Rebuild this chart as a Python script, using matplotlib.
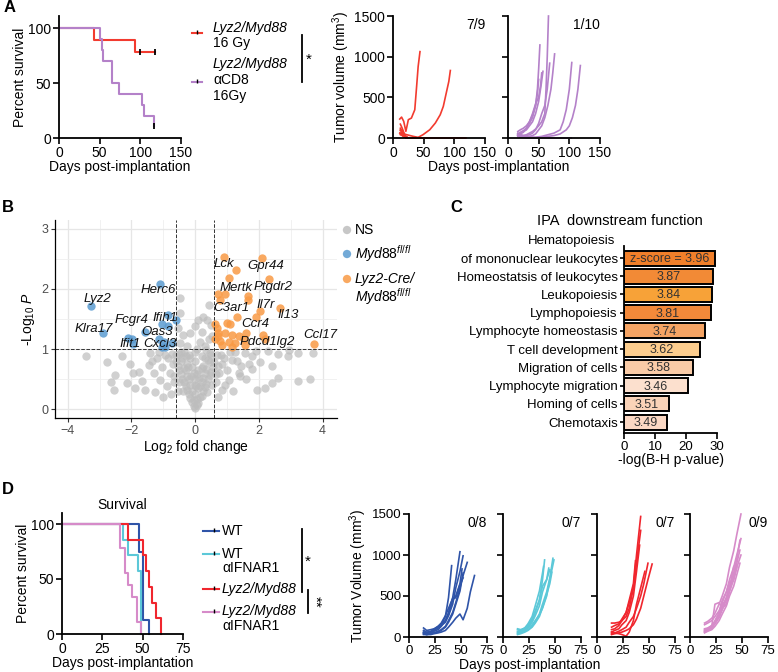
import numpy as np
import matplotlib.pyplot as plt
from matplotlib.ticker import MultipleLocator

plt.rcParams['font.family'] = ['Liberation Sans', 'DejaVu Sans']
plt.rcParams['mathtext.fontset'] = 'custom'
plt.rcParams['mathtext.rm'] = 'Liberation Sans'
plt.rcParams['mathtext.it'] = 'Liberation Sans:italic'
plt.rcParams['axes.linewidth'] = 1.3

# ---------------- data ----------------
# A: survival (days, percent)
A_red_days = [0, 43, 93, 118]
A_red_pct = [100, 88.9, 77.8, 77.8]
A_red_cens = [100, 118]
A_pur_days = [0, 50, 52.5, 54.5, 65, 74, 101.5, 104, 117]
A_pur_pct = [100, 90, 80, 70, 50, 40, 30, 20, 11]
A_pur_cens = [117]

# A: tumour growth curves
A_red_curves = [
    ([11, 14, 17.5, 21, 25, 30, 35.5, 38.5, 41, 44], [233, 257, 204, 82, 225, 245, 347, 633, 878, 1062]),
    ([11, 22, 33, 41, 49, 60, 69, 77, 82, 88, 91, 93.5], [61, 41, 20, 8, 41, 102, 184, 286, 388, 593, 695, 830]),
    ([12, 15, 18, 21, 25, 30, 118], [170, 120, 60, 20, 0, 0, 0]),
    ([12, 15, 18, 21, 25, 118], [120, 80, 40, 10, 0, 0]),
    ([12, 15, 18, 21, 25, 118], [90, 100, 50, 20, 0, 0]),
    ([12, 14, 17, 20, 24, 118], [60, 40, 20, 10, 0, 0]),
    ([12, 15, 18, 22, 26, 118], [40, 70, 30, 0, 0, 0]),
    ([12, 15, 18, 21, 118], [100, 60, 30, 0, 0]),
    ([12, 15, 19, 23, 118], [50, 30, 10, 0, 0]),
]
A_pur_curves = [
    ([16, 20, 25, 30, 35, 40, 45, 50, 55, 60, 62, 64, 66], [60, 40, 30, 40, 60, 80, 110, 150, 200, 300, 600, 1000, 1500]),
    ([16, 20, 25, 30, 35, 40, 45, 48, 50, 52], [80, 100, 120, 150, 200, 280, 400, 600, 850, 1144]),
    ([16, 20, 25, 30, 35, 40, 45, 50, 54, 57], [40, 60, 80, 100, 150, 200, 300, 450, 650, 820]),
    ([16, 20, 25, 30, 35, 40, 45, 50, 53, 55], [30, 50, 70, 120, 200, 300, 420, 500, 640, 800]),
    ([16, 20, 25, 30, 35, 40, 45, 50, 55, 60, 64, 68], [50, 40, 30, 30, 40, 60, 100, 180, 300, 400, 600, 920]),
    ([16, 20, 25, 30, 35, 40, 45, 50, 55, 60, 65, 70, 73, 76], [30, 20, 10, 10, 20, 30, 50, 100, 150, 250, 400, 600, 800, 1034]),
    ([16, 25, 35, 45, 55, 65, 75, 85, 90, 95, 100, 104], [40, 20, 10, 10, 20, 40, 60, 100, 200, 350, 600, 928]),
    ([16, 25, 35, 45, 55, 65, 75, 85, 95, 100, 105, 110, 114, 118], [20, 10, 10, 5, 10, 20, 30, 50, 100, 150, 250, 400, 600, 891]),
    ([16, 20, 25, 30, 35, 40, 45, 48, 50], [50, 70, 90, 120, 180, 250, 400, 550, 720]),
    ([16, 20, 25, 30, 40, 60, 80, 103], [30, 10, 5, 0, 0, 0, 0, 0]),
]
A_counts = ['7/9', '1/10']

# B: volcano
ns_x = [-3.43, -2.77, -2.51, -2.56, -2.65, -2.14, -1.88, -2.30, -1.95, -1.67, -1.41, -1.46, -1.57, -1.30,
        -1.10, -1.26, -0.89, -1.75, -2.05, -1.20, -1.05, -0.95, -0.80, -0.70, -0.65, -0.55, -0.75, -1.00, -0.60,
        -0.47, -0.47, 0.42, 0.26, 0.10, 0.37, 0.00, -0.16, 0.21, -0.37, -0.47, 0.42, 0.52, -0.25, 0.30, 0.15,
        -0.55, 0.50,
        0.00, -0.05, 0.05, -0.10, 0.10, -0.15, 0.15, -0.20, 0.20, -0.25, 0.25, -0.30, 0.30, -0.35, 0.35, -0.40,
        0.40, -0.45, 0.45, -0.50, 0.50, -0.55, 0.55, -0.60, 0.60, -0.10, 0.10, 0.00, -0.20, 0.20, 0.00, -0.30,
        0.30, -0.10, 0.10, 0.00, -0.40, 0.40, -0.20, 0.20, 0.00, -0.35, 0.35, -0.50, 0.50, 0.05, -0.15,
        -0.05, 0.05, -0.15, 0.15, -0.25, 0.25, -0.35, 0.35, -0.45, 0.45, -0.05, 0.05, -0.25, 0.25, -0.45, 0.45,
        -0.30, 0.30, -0.12, 0.12, -0.22, 0.22, -0.38, 0.38, -0.02, 0.02, -0.52, 0.52, -0.65, 0.65,
        0.65, 0.75, 0.84, 0.73, 0.90, 1.05, 1.15, 1.36, 1.57, 1.78, 1.78, 2.04, 2.41, 2.20, 1.94, 2.41, 2.59,
        2.91, 3.22, 3.61, 3.24, 3.71, 2.30, 2.93, 1.25, 1.45, 1.00, 0.80, 1.60, 2.60, 1.90, 0.95, 1.20, 0.70,
        0.85, 1.10, 1.30, 0.68, 1.40, 1.70, -0.85, -1.15, -1.35, -0.72]
ns_y = [0.89, 0.78, 0.57, 0.31, 0.45, 0.44, 0.35, 0.88, 0.60, 0.46, 0.93, 0.74, 0.31, 0.60,
        0.49, 0.29, 0.38, 0.62, 0.75, 0.85, 0.70, 0.90, 0.60, 0.75, 0.45, 0.30, 0.25, 0.20, 0.90,
        1.85, 1.60, 1.74, 1.54, 1.49, 1.49, 1.38, 1.27, 1.29, 1.24, 1.10, 1.16, 1.21, 1.05, 1.05, 1.12,
        1.35, 1.40,
        0.02, 0.05, 0.06, 0.12, 0.10, 0.18, 0.20, 0.25, 0.22, 0.32, 0.30, 0.38, 0.36, 0.45, 0.42, 0.50,
        0.50, 0.58, 0.56, 0.65, 0.62, 0.72, 0.70, 0.80, 0.78, 0.30, 0.35, 0.25, 0.50, 0.45, 0.50, 0.65,
        0.60, 0.70, 0.65, 0.80, 0.85, 0.82, 0.90, 0.88, 0.95, 0.95, 0.98, 0.92, 0.90, 1.00, 0.85,
        0.15, 0.16, 0.40, 0.38, 0.55, 0.52, 0.68, 0.66, 0.80, 0.78, 0.60, 0.58, 0.75, 0.72, 0.95, 0.93,
        0.88, 0.85, 0.55, 0.52, 0.70, 0.68, 0.30, 0.28, 0.40, 0.38, 0.45, 0.40, 0.55, 0.58,
        0.45, 0.60, 0.32, 0.71, 0.85, 0.49, 0.82, 0.60, 0.93, 0.88, 0.66, 0.79, 0.71, 0.35, 0.31, 0.43, 0.52,
        0.88, 0.46, 0.50, 0.93, 0.94, 0.97, 0.98, 0.95, 0.72, 0.65, 0.90, 0.50, 0.92, 0.97, 0.40, 0.30, 0.20,
        0.75, 0.95, 0.80, 0.90, 0.55, 0.75, 0.85, 0.95, 0.80, 0.92]
wt_x = [-3.26, -2.89, -1.12, -1.59, -2.11, -1.97, -1.95, -0.84, -0.61, -1.03, -0.84, -1.15, -0.97, -0.94,
        -0.73, -1.05]
wt_y = [1.71, 1.26, 2.09, 1.29, 1.18, 1.17, 1.09, 1.57, 1.49, 1.42, 1.38, 1.17, 1.12, 1.04, 1.10, 1.04]
ko_x = [0.89, 1.28, 2.09, 1.05, 2.33, 0.73, 0.94, 0.78, 1.67, 1.65, 2.04, 2.67, 1.31, 1.91, 0.63, 0.99,
        1.10, 0.73, 0.94, 1.15, 1.36, 1.59, 2.14, 2.20, 0.63, 0.78, 1.05, 1.26, 1.52, 0.84, 1.15, 1.57, 3.74,
        0.68, 0.73]
ko_y = [2.53, 2.32, 2.52, 2.18, 2.16, 1.91, 1.91, 1.82, 1.88, 1.81, 1.64, 1.69, 1.53, 1.53, 1.42, 1.43,
        1.41, 1.27, 1.26, 1.24, 1.21, 1.26, 1.24, 1.17, 1.16, 1.13, 1.11, 1.10, 1.16, 1.06, 1.04, 1.06, 1.09,
        1.35, 1.21]
gene_names = ['Lyz2', 'Klra17', 'Herc6', 'Fcgr4', 'Ifih1', 'Oas3', 'Ifit1', 'Cxcl3', 'Lck', 'Gpr44',
              'Mertk', 'Ptgdr2', 'C3ar1', 'Il7r', 'Il13', 'Ccr4', 'Pdcd1lg2', 'Ccl17']
gene_label_x = [-3.06, -3.19, -1.17, -1.99, -0.96, -1.21, -2.04, -1.12, 0.91, 2.20,
                1.28, 2.46, 1.13, 2.22, 2.93, 1.90, 2.25, 3.92]
gene_label_y = [1.84, 1.33, 1.99, 1.49, 1.52, 1.29, 1.09, 1.09, 2.41, 2.39,
                2.02, 2.03, 1.68, 1.73, 1.57, 1.42, 1.12, 1.24]

# C: IPA downstream function
ipa_terms = ['of mononuclear leukocytes', 'Homeostatsis of leukocytes', 'Leukopoiesis', 'Lymphopoiesis',
             'Lymphocyte homeostasis', 'T cell development', 'Migration of cells', 'Lymphocyte migration',
             'Homing of cells', 'Chemotaxis']
ipa_logp = [29.5, 28.7, 28.5, 28.0, 26.2, 24.4, 22.2, 20.5, 14.5, 13.8]
ipa_z = ['z-score = 3.96', '3.87', '3.84', '3.81', '3.74', '3.62', '3.58', '3.46', '3.51', '3.49']
ipa_colors = ['#F07F2A', '#F28A36', '#F7A238', '#F3893A', '#F5A464', '#FCCD8E', '#F9CBA7', '#FCE0CE',
              '#FAD3B8', '#FBD8C4']

# D: survival
D_groups = ['WT', 'WT aIFNAR1', 'Lyz2/Myd88', 'Lyz2/Myd88 aIFNAR1']
D_days = [[0, 48, 50, 54], [0, 38, 41, 47, 49], [0, 41, 50, 52, 54, 56, 58, 61.5], [0, 36, 39, 41, 43.5, 46.5, 49]]
D_pct = [[100, 75, 12.5, 0], [100, 85.7, 71.4, 57.1, 0], [100, 85.7, 71.4, 57.1, 42.9, 28.6, 14.3, 0],
         [100, 77.8, 55.6, 44.4, 33.3, 11.1, 0]]
D_colors = ['#2F54A8', '#5CC8D8', '#F0262E', '#D68BC9']

# D: tumour growth
D_blue = [
    ([14, 17, 21, 24, 28, 31, 35, 38, 41], [80, 60, 70, 90, 120, 150, 250, 480, 870]),
    ([14, 17, 21, 24, 28, 31, 35, 38, 42, 45, 49], [50, 40, 50, 70, 90, 130, 200, 300, 480, 700, 1040]),
    ([14, 17, 21, 24, 28, 31, 35, 38, 42, 45, 49, 52], [60, 50, 60, 80, 110, 140, 180, 260, 400, 600, 800, 990]),
    ([14, 17, 21, 24, 28, 31, 35, 38, 42, 45, 49, 52, 56], [40, 30, 40, 50, 70, 90, 130, 200, 300, 420, 600, 750, 910]),
    ([14, 17, 21, 24, 28, 31, 35, 38, 42, 45, 49, 51], [110, 80, 90, 100, 130, 170, 260, 350, 470, 500, 650, 830]),
    ([14, 17, 21, 24, 28, 31, 35, 38, 42, 45, 49, 52], [30, 30, 40, 50, 60, 80, 120, 180, 280, 400, 560, 780]),
    ([14, 17, 21, 24, 28, 31, 35, 38, 42, 45, 49, 52, 56, 59, 63], [40, 30, 30, 40, 50, 60, 80, 120, 180, 230, 280, 210, 350, 550, 750]),
    ([14, 17, 21, 24, 28, 31, 35, 38, 42, 45, 49, 52], [60, 50, 60, 90, 130, 160, 200, 270, 460, 480, 640, 720]),
]
D_cyan = [
    ([14, 17, 21, 24, 28, 31, 35, 38, 40], [90, 80, 100, 140, 200, 300, 450, 700, 940]),
    ([14, 17, 21, 24, 28, 31, 35, 38, 42, 44], [50, 60, 80, 120, 180, 260, 380, 550, 700, 840]),
    ([14, 17, 21, 24, 28, 31, 35, 38, 42, 45, 48], [40, 50, 70, 90, 130, 190, 280, 400, 550, 720, 960]),
    ([14, 17, 21, 24, 28, 31, 35, 38, 42, 45, 49], [60, 70, 90, 110, 150, 200, 270, 350, 500, 700, 940]),
    ([14, 17, 21, 24, 28, 31, 35, 38, 42, 45], [100, 90, 110, 150, 220, 320, 450, 620, 700, 820]),
    ([14, 17, 21, 24, 28, 31, 35, 38, 39], [70, 80, 110, 160, 250, 380, 560, 780, 860]),
    ([14, 17, 21, 24, 28, 31, 35, 38, 42, 45, 47], [30, 40, 60, 80, 120, 170, 250, 360, 520, 650, 790]),
]
D_red = [
    ([14, 17, 21, 24, 28, 31, 35, 38, 42], [170, 170, 180, 200, 250, 350, 600, 1000, 1470]),
    ([14, 17, 21, 24, 28, 31, 35, 38, 42], [120, 140, 160, 220, 300, 420, 600, 900, 1300]),
    ([14, 17, 21, 24, 28, 31, 35, 38, 41], [60, 80, 100, 150, 200, 300, 500, 800, 1120]),
    ([14, 17, 21, 24, 28, 31, 35, 38, 42, 45, 49], [40, 50, 70, 90, 120, 180, 250, 350, 500, 650, 900]),
    ([14, 17, 21, 24, 28, 31, 35, 38, 42, 45, 49, 53], [30, 40, 50, 60, 80, 100, 150, 220, 350, 500, 700, 890]),
    ([14, 17, 21, 24, 28, 31, 35, 37], [90, 100, 140, 200, 300, 450, 650, 930]),
    ([14, 17, 21, 24, 28, 31, 35, 38, 42, 46], [60, 50, 40, 30, 10, 60, 200, 400, 600, 800]),
]
D_pink = [
    ([14, 17, 21, 24, 28, 31, 35, 38, 42, 45, 49], [170, 190, 230, 290, 400, 500, 650, 850, 1050, 1250, 1500]),
    ([14, 17, 21, 24, 28, 31, 35, 38, 42, 45, 49], [150, 170, 200, 250, 320, 420, 550, 700, 850, 1000, 1200]),
    ([14, 17, 21, 24, 28, 31, 35, 38, 42, 45, 48], [60, 80, 110, 160, 240, 330, 450, 600, 750, 900, 1060]),
    ([14, 17, 21, 24, 28, 31, 35, 38, 42, 45, 49], [80, 100, 130, 180, 250, 350, 480, 620, 700, 850, 1000]),
    ([14, 17, 21, 24, 28, 31, 35, 38, 42], [70, 90, 120, 170, 250, 400, 450, 600, 860]),
    ([14, 17, 21, 24, 28, 31, 35, 38, 42, 45], [100, 110, 140, 400, 420, 350, 400, 550, 700, 850]),
    ([14, 17, 21, 24, 28, 31, 35, 38, 42, 45, 48], [50, 70, 90, 130, 200, 280, 380, 500, 620, 760, 900]),
    ([14, 17, 21, 24, 28, 31, 35, 38], [60, 80, 120, 200, 300, 450, 550, 670]),
    ([14, 17, 21, 24, 28, 31, 35, 38, 42, 45, 48], [90, 100, 140, 190, 270, 370, 480, 600, 780, 950, 1180]),
]
D_counts = ['0/8', '0/7', '0/7', '0/9']

A_RED = '#F23B2F'
A_PUR = '#B481C9'
FS = 10

# ---------------- figure ----------------
W, H = 778, 672
fig = plt.figure(figsize=(W / 100, H / 100), dpi=100)


def px_axes(l, t, r, b):
    return fig.add_axes([l / W, 1 - b / H, (r - l) / W, (b - t) / H])


def prism(ax, fs=FS):
    ax.spines['top'].set_visible(False)
    ax.spines['right'].set_visible(False)
    ax.tick_params(direction='out', length=4, width=1.2, labelsize=fs, pad=1.5)


# overlay for free text in pixel units
ov = fig.add_axes([0, 0, 1, 1], zorder=10)
ov.set_xlim(0, W)
ov.set_ylim(H, 0)
ov.set_axis_off()
ov.patch.set_alpha(0)

# ---- A survival ----
ax = px_axes(59, 16, 181, 138)
ax.step(A_red_days, A_red_pct, where='post', color=A_RED, lw=1.5, clip_on=False)
ax.step(A_pur_days, A_pur_pct, where='post', color=A_PUR, lw=1.5, clip_on=False)
ax.plot(A_red_cens, [A_red_pct[-1]] * len(A_red_cens), '|', color='k', ms=4, mew=1.3, clip_on=False)
ax.plot(A_pur_cens, [A_pur_pct[-1]] * len(A_pur_cens), '|', color='k', ms=4, mew=1.3, clip_on=False)
ax.set_xlim(0, 150)
ax.set_ylim(0, 111)
ax.set_xticks([0, 50, 100, 150])
ax.set_yticks([0, 50, 100])
prism(ax)
ax.set_xlabel('Days post-implantation', fontsize=FS, labelpad=0)
ax.set_ylabel('Percent survival', fontsize=FS, labelpad=1)

# ---- A tumour ----
for i, (curves, col) in enumerate([(A_red_curves, A_RED), (A_pur_curves, A_PUR)]):
    l = [393, 508][i]
    ax = px_axes(l, 16, l + 92, 138)
    for d, v in curves:
        ax.plot(d, v, color=col, lw=1.2, clip_on=False)
    ax.set_xlim(0, 150)
    ax.set_ylim(0, 1500)
    ax.set_xticks([0, 50, 100, 150])
    ax.set_yticks([0, 500, 1000, 1500])
    prism(ax)
    ax.text(1.0, 0.93, A_counts[i], transform=ax.transAxes, ha='right', va='center', fontsize=FS)
    if i == 0:
        ax.set_ylabel('Tumor volume (mm$^3$)', fontsize=FS, labelpad=2)
    else:
        ax.set_yticklabels([])
ov.text(499, 167, 'Days post-implantation', ha='center', va='center', fontsize=FS)

# A legend
for y, col in [(33, A_RED), (82, A_PUR)]:
    ov.plot([192, 202], [y, y], color=col, lw=1.5)
    ov.plot([197], [y - 1.5], '|', color='k', ms=3, mew=1)
ov.text(213, 28, 'Lyz2/Myd88', style='italic', fontsize=FS, va='center')
ov.text(213, 43, '16 Gy', fontsize=FS, va='center')
ov.text(213, 64, 'Lyz2/Myd88', style='italic', fontsize=FS, va='center')
ov.text(213, 80, '\u03b1CD8', fontsize=FS, va='center')
ov.text(213, 96, '16Gy', fontsize=FS, va='center')
ov.plot([302, 302], [35, 82], color='k', lw=1.3)
ov.text(309, 60, '*', fontsize=11, ha='center', va='center')

# ---- B volcano ----
ax = px_axes(55, 220, 337, 418)
ax.set_xlim(-4.4, 4.45)
ax.set_ylim(-0.15, 3.15)
ax.xaxis.set_major_locator(MultipleLocator(2))
ax.xaxis.set_minor_locator(MultipleLocator(1))
ax.yaxis.set_major_locator(MultipleLocator(1))
ax.yaxis.set_minor_locator(MultipleLocator(0.5))
ax.grid(True, which='major', color='#E6E6E6', lw=0.9)
ax.grid(True, which='minor', color='#EFEFEF', lw=0.6)
ax.set_axisbelow(True)
ax.scatter(ns_x, ns_y, s=36, color='#BDBDBD', alpha=0.7, lw=0)
ax.scatter(wt_x, wt_y, s=36, color='#5B9BD0', alpha=0.85, lw=0)
ax.scatter(ko_x, ko_y, s=36, color='#F99A45', alpha=0.85, lw=0)
ax.axvline(-0.6, color='#333333', ls='--', lw=0.7)
ax.axvline(0.6, color='#333333', ls='--', lw=0.7)
ax.axhline(1.0, color='#333333', ls='--', lw=0.7)
for name, gx, gy in zip(gene_names, gene_label_x, gene_label_y):
    ax.text(gx, gy, name, style='italic', fontsize=9.5, ha='center', va='center', color='#111111')
for s in ['top', 'right']:
    ax.spines[s].set_visible(False)
ax.spines['left'].set_linewidth(0.9)
ax.spines['bottom'].set_linewidth(0.9)
ax.tick_params(which='major', length=3, width=0.8, color='#333333', labelcolor='#4D4D4D', labelsize=9, pad=2)
ax.tick_params(which='minor', length=0)
ax.set_xlabel('Log$_2$ fold change', fontsize=FS, labelpad=1)
ax.set_ylabel('-Log$_{10}$ $P$', fontsize=FS, labelpad=3)

# B legend
ov.scatter([347, 347, 347], [230, 254, 279], s=36, color=['#BDBDBD', '#5B9BD0', '#F99A45'], alpha=0.85, lw=0)
ov.text(355, 230, 'NS', fontsize=FS, va='center')
ov.text(355, 254, r'$\it{Myd88}^{fl/fl}$', fontsize=FS, va='center')
ov.text(355, 279, 'Lyz2-Cre/', style='italic', fontsize=FS, va='center')
ov.text(355, 297, r'$\it{Myd88}^{fl/fl}$', fontsize=FS, va='center')

# ---- C IPA ----
ax = px_axes(624, 246, 717, 433)
ypos = np.arange(len(ipa_terms))
ax.barh(ypos, ipa_logp, height=0.82, color=ipa_colors, edgecolor='k', lw=1.4)
for yy, val, lab in zip(ypos, ipa_logp, ipa_z):
    ax.text(val / 2, yy + 0.05, lab, ha='center', va='center', fontsize=9, color='#333333')
ax.set_ylim(9.6, -0.66)
ax.set_xlim(0, 30)
ax.set_xticks([0, 10, 20, 30])
ax.set_yticks(ypos)
ax.set_yticklabels(ipa_terms, fontsize=9.5)
prism(ax, fs=9.5)
ax.tick_params(axis='y', length=3)
ax.text(-0.09, -0.95, 'Hematopoiesis', transform=ax.get_yaxis_transform(), ha='right', va='center', fontsize=9.5)
ax.set_xlabel('-log(B-H p-value)', fontsize=FS, labelpad=0)
ov.text(620, 221, 'IPA  downstream function', ha='center', va='center', fontsize=10.5)

# ---- D survival ----
ax = px_axes(62, 513, 183, 634)
for d, p, col in zip(D_days, D_pct, D_colors):
    ax.step(d, p, where='post', color=col, lw=1.5, clip_on=False)
ax.set_xlim(0, 75)
ax.set_ylim(0, 110)
ax.set_xticks([0, 25, 50, 75])
ax.set_yticks([0, 50, 100])
prism(ax)
ax.set_xlabel('Days post-implantation', fontsize=FS, labelpad=0)
ax.set_ylabel('Percent survival', fontsize=FS, labelpad=1)
ax.set_title('Survival', fontsize=FS, pad=3)

# D legend
for y, col in zip([531, 554, 589, 612], D_colors):
    ov.plot([203, 219], [y, y], color=col, lw=1.5)
    ov.plot([214], [y - 1.5], '|', color='k', ms=3, mew=1)
ov.text(222, 531, 'WT', fontsize=FS, va='center')
ov.text(222, 554, 'WT', fontsize=FS, va='center')
ov.text(222, 568, '\u03b1IFNAR1', fontsize=FS, va='center')
ov.text(222, 589, 'Lyz2/Myd88', style='italic', fontsize=FS, va='center')
ov.text(222, 611, 'Lyz2/Myd88', style='italic', fontsize=FS, va='center')
ov.text(222, 626, '\u03b1IFNAR1', fontsize=FS, va='center')
ov.plot([302, 302], [529, 592], color='k', lw=1.3)
ov.text(308, 562, '*', fontsize=11, ha='center', va='center')
ov.plot([308, 308], [590, 613], color='k', lw=1.3)
ov.text(315, 602, '**', fontsize=11, ha='center', va='center', rotation=-90)

# ---- D tumour ----
lefts = [409, 503, 597, 690]
for i, (curves, col) in enumerate(zip([D_blue, D_cyan, D_red, D_pink], D_colors)):
    ax = px_axes(lefts[i], 514, lefts[i] + 78, 637)
    for d, v in curves:
        ax.plot(d, v, color=col, lw=1.2, clip_on=False)
    ax.set_xlim(0, 75)
    ax.set_ylim(0, 1500)
    ax.set_xticks([0, 25, 50, 75])
    ax.set_yticks([0, 500, 1000, 1500])
    prism(ax, fs=9.5)
    ax.text(1.0, 0.93, D_counts[i], transform=ax.transAxes, ha='right', va='center', fontsize=FS)
    if i == 0:
        ax.set_ylabel('Tumor Volume (mm$^3$)', fontsize=FS, labelpad=2)
    else:
        ax.set_yticklabels([])
ov.text(530, 665, 'Days post-implantation', ha='center', va='center', fontsize=FS)

# panel letters
for lab, x, y in [('A', 4, 8), ('B', 2, 207), ('C', 450, 207), ('D', 2, 490)]:
    ov.text(x, y, lab, fontsize=12, fontweight='bold', va='center')

fig.savefig('out.png', dpi=100)
